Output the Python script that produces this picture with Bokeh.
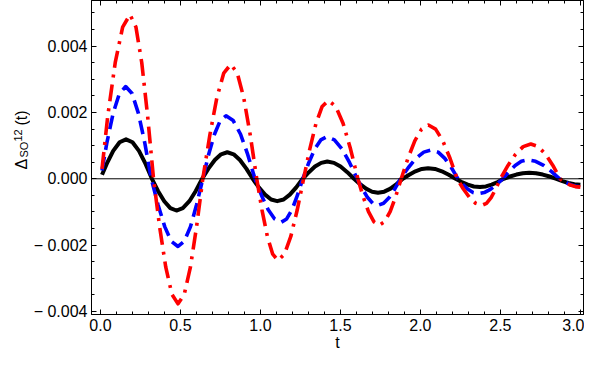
import numpy as np
from bokeh.plotting import figure
from bokeh.layouts import row
from bokeh.models import (ColumnDataSource, LinearAxis, FixedTicker, Span, Label,
                          PrintfTickFormatter, Range1d, CustomLabelingPolicy)
from bokeh.embed import file_html
from bokeh.resources import INLINE

# ---- data (values in units of 1e-3) ----
black_t = [0.01, 0.04, 0.08, 0.12, 0.16, 0.2005, 0.241, 0.2815, 0.322,
           0.360, 0.399, 0.437, 0.475, 0.515, 0.556, 0.596, 0.636,
           0.675, 0.715, 0.754, 0.793, 0.833, 0.872, 0.912, 0.952,
           0.990, 1.029, 1.067, 1.105, 1.145, 1.184, 1.224, 1.264,
           1.303, 1.341, 1.380, 1.418, 1.460, 1.501, 1.543, 1.585,
           1.623, 1.660, 1.698, 1.735, 1.774, 1.813, 1.851, 1.89,
           1.930, 1.969, 2.009, 2.048, 2.091, 2.134, 2.177, 2.22,
           2.258, 2.296, 2.334, 2.372, 2.409, 2.446, 2.483, 2.52,
           2.56, 2.60, 2.64, 2.68, 2.7225, 2.765, 2.8075, 2.85,
           2.8875, 2.925, 2.9625, 3.0]
black_v = [0.12, 0.456, 0.841, 1.10, 1.19, 1.10, 0.841, 0.456, 0.0,
           -0.366, -0.676, -0.883, -0.956, -0.883, -0.676, -0.366, 0.0,
           0.306, 0.566, 0.739, 0.80, 0.739, 0.566, 0.306, 0.0,
           -0.259, -0.477, -0.624, -0.675, -0.624, -0.477, -0.259, 0.0,
           0.199, 0.368, 0.480, 0.52, 0.480, 0.368, 0.199, 0.0,
           -0.161, -0.297, -0.388, -0.42, -0.388, -0.297, -0.161, 0.0,
           0.123, 0.226, 0.296, 0.32, 0.296, 0.226, 0.123, 0.0,
           -0.096, -0.177, -0.231, -0.25, -0.231, -0.177, -0.096, 0.0,
           0.069, 0.127, 0.166, 0.18, 0.166, 0.127, 0.069, 0.0,
           -0.069, -0.127, -0.166, -0.18]

blue_t = [0.01, 0.0395, 0.079, 0.1185, 0.158, 0.198, 0.238, 0.278, 0.318,
          0.360, 0.402, 0.443, 0.485, 0.524, 0.563, 0.601, 0.64,
          0.676, 0.713, 0.749, 0.785, 0.830, 0.876, 0.921, 0.966,
          1.007, 1.048, 1.089, 1.13, 1.164, 1.198, 1.231, 1.265,
          1.3025, 1.340, 1.3775, 1.415, 1.4625, 1.510, 1.5575, 1.605,
          1.6375, 1.670, 1.7025, 1.735, 1.770, 1.805, 1.840, 1.875,
          1.924, 1.9725, 2.021, 2.07, 2.111, 2.1525, 2.194, 2.235,
          2.266, 2.2975, 2.329, 2.36, 2.399, 2.4375, 2.476, 2.515,
          2.554, 2.5925, 2.631, 2.67, 2.72, 2.77, 2.82, 2.87,
          2.9025, 2.935, 2.9675, 3.0]
blue_v = [0.25, 1.065, 1.965, 2.569, 2.78, 2.569, 1.965, 1.065, 0.0,
          -0.781, -1.442, -1.885, -2.04, -1.885, -1.442, -0.781, 0.0,
          0.728, 1.343, 1.756, 1.90, 1.756, 1.343, 0.728, 0.0,
          -0.502, -0.926, -1.210, -1.31, -1.210, -0.926, -0.502, 0.0,
          0.486, 0.898, 1.173, 1.27, 1.173, 0.898, 0.486, 0.0,
          -0.306, -0.566, -0.739, -0.80, -0.739, -0.566, -0.306, 0.0,
          0.333, 0.615, 0.804, 0.87, 0.804, 0.615, 0.333, 0.0,
          -0.172, -0.318, -0.416, -0.45, -0.416, -0.318, -0.172, 0.0,
          0.218, 0.403, 0.527, 0.57, 0.527, 0.403, 0.218, 0.0,
          -0.092, -0.17, -0.222, -0.24]

red_t = [0.01, 0.046, 0.0925, 0.139, 0.185, 0.222, 0.2585, 0.295, 0.332,
         0.370, 0.4085, 0.447, 0.485, 0.524, 0.5625, 0.601, 0.64,
         0.684, 0.7275, 0.771, 0.815, 0.8555, 0.896, 0.9365, 0.977,
         1.010, 1.0435, 1.077, 1.11, 1.15, 1.19, 1.23, 1.27,
         1.309, 1.3475, 1.386, 1.425, 1.471, 1.517, 1.563, 1.609,
         1.642, 1.6755, 1.709, 1.742, 1.7765, 1.811, 1.8455, 1.88,
         1.9225, 1.965, 2.0075, 2.05, 2.095, 2.14, 2.185, 2.23,
         2.2685, 2.307, 2.3455, 2.384, 2.413, 2.442, 2.471, 2.50,
         2.5475, 2.595, 2.6425, 2.69, 2.736, 2.782, 2.828, 2.874,
         2.9055, 2.937, 2.9685, 3.0]
red_v = [0.3, 1.896, 3.50, 4.574, 4.95, 4.574, 3.50, 1.896, 0.0,
         -1.444, -2.665, -3.483, -3.77, -3.483, -2.665, -1.444, 0.0,
         1.321, 2.439, 3.188, 3.45, 3.188, 2.439, 1.321, 0.0,
         -0.942, -1.739, -2.273, -2.46, -2.273, -1.739, -0.942, 0.0,
         0.904, 1.669, 2.181, 2.36, 2.181, 1.669, 0.904, 0.0,
         -0.536, -0.990, -1.294, -1.40, -1.294, -0.990, -0.536, 0.0,
         0.620, 1.145, 1.497, 1.62, 1.497, 1.145, 0.620, 0.0,
         -0.306, -0.566, -0.739, -0.80, -0.739, -0.566, -0.306, 0.0,
         0.402, 0.742, 0.970, 1.05, 0.970, 0.742, 0.402, 0.0,
         -0.12, -0.19, -0.235, -0.25]

x_major = [0.0, 0.5, 1.0, 1.5, 2.0, 2.5, 3.0]
x_minor = [round(0.1 * i, 1) for i in range(0, 31)]
y_major = [-0.004, -0.002, 0.0, 0.002, 0.004]
y_minor = [round(-0.004 + 0.0005 * i, 4) for i in range(0, 20)]
y_labels = {-0.004: "\u2212 0.004", -0.002: "\u2212 0.002", 0.0: "0.000",
            0.002: "0.002", 0.004: "0.004"}

FONT = "Liberation Sans"
X0, X1 = -0.0557, 3.0194
Y0, Y1 = -0.004091, 0.005375
H = 354
LABW = 30

p = figure(width=584 - LABW, height=H, output_backend="svg", toolbar_location=None,
           x_range=Range1d(X0, X1), y_range=Range1d(Y0, Y1),
           x_axis_location=None, y_axis_location=None,
           min_border_left=58, min_border_right=1, min_border_top=0,
           min_border_bottom=40)
p.grid.visible = False
p.outline_line_color = "black"
p.outline_line_width = 1
p.background_fill_color = "white"
p.border_fill_color = "white"


def style_axis(ax, labels=True):
    ax.axis_line_color = "black"
    ax.axis_line_width = 1
    ax.major_tick_line_color = "black"
    ax.minor_tick_line_color = "black"
    ax.major_tick_in = 5
    ax.major_tick_out = 0
    ax.minor_tick_in = 3
    ax.minor_tick_out = 0
    if labels:
        ax.major_label_text_font = FONT
        ax.major_label_text_font_size = "16px"
        ax.major_label_text_color = "black"
    else:
        ax.major_label_policy = CustomLabelingPolicy(code="return []")
        ax.major_label_text_font_size = "0px"
        ax.major_label_standoff = 0


xb = LinearAxis(ticker=FixedTicker(ticks=x_major, minor_ticks=x_minor),
                formatter=PrintfTickFormatter(format="%.1f"))
style_axis(xb)
xb.major_label_standoff = 4
xb.axis_label = "t"
xb.axis_label_text_font = FONT
xb.axis_label_text_font_size = "16px"
xb.axis_label_text_font_style = "normal"
xb.axis_label_text_color = "black"
xb.axis_label_standoff = 0
p.add_layout(xb, "below")

yl = LinearAxis(ticker=FixedTicker(ticks=y_major, minor_ticks=y_minor))
style_axis(yl)
yl.major_label_overrides = y_labels
yl.major_label_standoff = 4
p.add_layout(yl, "left")

xt = LinearAxis(ticker=FixedTicker(ticks=x_major, minor_ticks=x_minor))
style_axis(xt, labels=False)
p.add_layout(xt, "above")

yr = LinearAxis(ticker=FixedTicker(ticks=y_major, minor_ticks=y_minor))
style_axis(yr, labels=False)
p.add_layout(yr, "right")

p.add_layout(Span(location=0, dimension="width", line_color="black", line_width=1))

src_k = ColumnDataSource(dict(t=black_t, v=np.array(black_v) * 1e-3))
src_b = ColumnDataSource(dict(t=blue_t, v=np.array(blue_v) * 1e-3))
src_r = ColumnDataSource(dict(t=red_t, v=np.array(red_v) * 1e-3))

p.line("t", "v", source=src_k, line_color="black", line_width=4, line_join="round")
p.line("t", "v", source=src_b, line_color="#0000ff", line_width=3.6,
       line_dash="14 7", line_join="round")
p.line("t", "v", source=src_r, line_color="#ff0000", line_width=3.6,
       line_dash="17 7 3 7", line_join="round")

# ---- narrow side panel carrying the rotated y-axis label  Delta_SO^12(t) ----
lab = figure(width=LABW, height=H, output_backend="svg", toolbar_location=None,
             x_range=Range1d(0, LABW), y_range=Range1d(0, H),
             x_axis_location=None, y_axis_location=None,
             min_border_left=0, min_border_right=0, min_border_top=0,
             min_border_bottom=0)
lab.grid.visible = False
lab.outline_line_color = None
lab.background_fill_color = "white"
lab.border_fill_color = "white"

ang = np.pi / 2
for txt, lx, ly, fs in [("\u0394", 20.5, 163.5, "16px"),
                        ("SO", 23.0, 177.0, "11px"),
                        ("12", 17.0, 195.0, "11px"),
                        ("(t)", 20.5, 213.0, "16px")]:
    lab.add_layout(Label(x=lx, y=ly, text=txt, angle=ang, text_font=FONT,
                         text_font_size=fs, text_color="black", text_align="left",
                         text_baseline="alphabetic"))

layout = row(lab, p, spacing=0)
open("out.html", "w").write(file_html(layout, INLINE))
